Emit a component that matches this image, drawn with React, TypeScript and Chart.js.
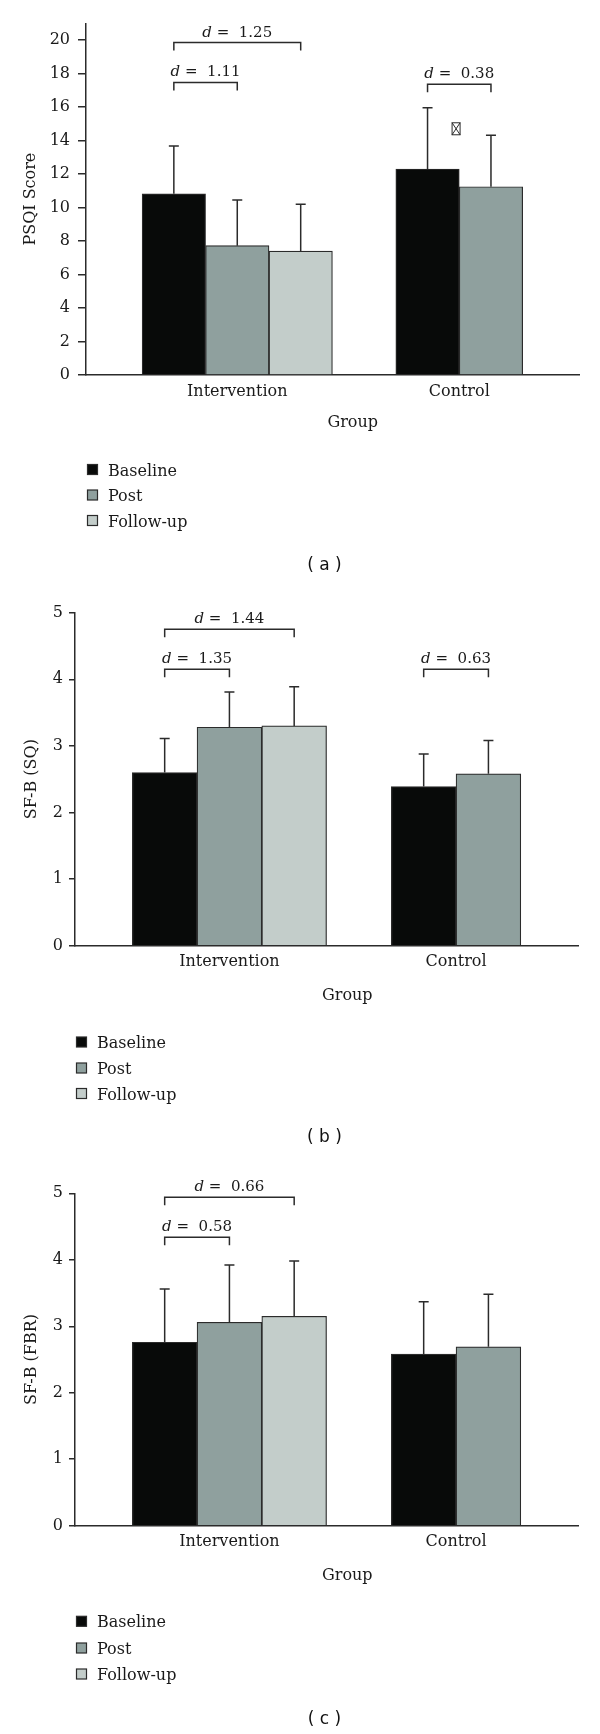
import React, { useEffect, useRef } from "react";
import { Chart, registerables } from "chart.js";

Chart.register(...registerables);

// ---------- data ----------
const groups = ["Intervention", "Control"];
const seriesNames = ["Baseline", "Post", "Follow-up"];

const psqiTicks = [0, 2, 4, 6, 8, 10, 12, 14, 16, 18, 20];
const psqiBaseline = [10.82, 12.3];
const psqiPost = [7.72, 11.24];
const psqiFollowUp = [7.4, null];
const psqiBaselineSD = [2.85, 3.66];
const psqiPostSD = [2.73, 3.07];
const psqiFollowUpSD = [2.8, null];
const psqiEffectPairs = [[0, 0, 2], [0, 0, 1], [1, 0, 1]];
const psqiEffectLabels = ["1.25", "1.11", "0.38"];

const sfTicks = [0, 1, 2, 3, 4, 5];

const sqBaseline = [2.6, 2.39];
const sqPost = [3.28, 2.58];
const sqFollowUp = [3.3, null];
const sqBaselineSD = [0.51, 0.49];
const sqPostSD = [0.53, 0.5];
const sqFollowUpSD = [0.59, null];
const sqEffectPairs = [[0, 0, 2], [0, 0, 1], [1, 0, 1]];
const sqEffectLabels = ["1.44", "1.35", "0.63"];

const fbrBaseline = [2.76, 2.58];
const fbrPost = [3.06, 2.69];
const fbrFollowUp = [3.15, null];
const fbrBaselineSD = [0.8, 0.79];
const fbrPostSD = [0.86, 0.79];
const fbrFollowUpSD = [0.83, null];
const fbrEffectPairs = [[0, 0, 2], [0, 0, 1]];
const fbrEffectLabels = ["0.66", "0.58"];

// ---------- layout / style ----------
const groupSlot = [1, 5];
const X_MIN = -0.385;
const X_MAX = 7.388;
const seriesColors = ["#080a09", "#8fa09e", "#c3cdca"];
const LINE = "#2b2b2b";
const TEXT = "#1a1a1a";
const SERIF = '"DejaVu Serif"';

type Panel = {
  top: number;
  height: number;
  yTitle: string;
  yMax: number;
  ticks: number[];
  series: (number | null)[][];
  sds: (number | null)[][];
  pairs: number[][];
  labels: string[];
  bracketY: number[];
  padTop: number;
  padRight: number;
  xHeight: number;
  yWidth: number;
  tickLen: number;
  tickPad: number;
  titlePad: number;
  groupDy: number;
  legendDy: number[];
  caption: string;
  captionDy: number;
  marker?: { x: number; y: number };
};

const panels: Panel[] = [
  {
    top: 0,
    height: 580,
    yTitle: "PSQI Score",
    yMax: 21,
    ticks: psqiTicks,
    series: [psqiBaseline, psqiPost, psqiFollowUp],
    sds: [psqiBaselineSD, psqiPostSD, psqiFollowUpSD],
    pairs: psqiEffectPairs,
    labels: psqiEffectLabels,
    bracketY: [19.85, 17.47, 17.36],
    padTop: 23.25,
    padRight: 21,
    xHeight: 205,
    yWidth: 86,
    tickLen: 8,
    tickPad: 8,
    titlePad: 21,
    groupDy: 52,
    legendDy: [94.5, 120, 145.5],
    caption: "( a )",
    captionDy: 191,
    marker: { x: 5.45, y: 14.7 },
  },
  {
    top: 580,
    height: 570,
    yTitle: "SF-B (SQ)",
    yMax: 5,
    ticks: sfTicks,
    series: [sqBaseline, sqPost, sqFollowUp],
    sds: [sqBaselineSD, sqPostSD, sqFollowUpSD],
    pairs: sqEffectPairs,
    labels: sqEffectLabels,
    bracketY: [4.75, 4.15, 4.15],
    padTop: 32.7,
    padRight: 21.7,
    xHeight: 204.3,
    yWidth: 75,
    tickLen: 6,
    tickPad: 6,
    titlePad: 22,
    groupDy: 54.5,
    legendDy: [96.3, 122.3, 147.8],
    caption: "( b )",
    captionDy: 192,
  },
  {
    top: 1150,
    height: 584,
    yTitle: "SF-B (FBR)",
    yMax: 5,
    ticks: sfTicks,
    series: [fbrBaseline, fbrPost, fbrFollowUp],
    sds: [fbrBaselineSD, fbrPostSD, fbrFollowUpSD],
    pairs: fbrEffectPairs,
    labels: fbrEffectLabels,
    bracketY: [4.94, 4.34],
    padTop: 43.3,
    padRight: 21.7,
    xHeight: 208.3,
    yWidth: 75,
    tickLen: 6,
    tickPad: 6,
    titlePad: 22,
    groupDy: 54,
    legendDy: [95.6, 122.3, 148.3],
    caption: "( c )",
    captionDy: 194,
  },
];

function groupCenters(series: (number | null)[][]) {
  return groups.map((_, g) => {
    const n = series.filter((s) => s[g] !== null && s[g] !== undefined).length;
    return groupSlot[g] + (n - 1) / 2;
  });
}

function extrasPlugin(p: Panel) {
  return {
    id: "panelExtras",
    afterDatasetsDraw(chart: any) {
      const ctx = chart.ctx;
      const xs = chart.scales.x;
      const ys = chart.scales.y;
      ctx.save();
      ctx.strokeStyle = LINE;
      ctx.lineWidth = 1.5;
      // error bars (upper whisker)
      p.series.forEach((vals, s) => {
        const meta = chart.getDatasetMeta(s);
        let k = 0;
        vals.forEach((v, g) => {
          if (v === null) return;
          const el = meta.data[k++];
          const sd = p.sds[s][g] as number;
          const top = ys.getPixelForValue(v + sd);
          ctx.beginPath();
          ctx.moveTo(el.x, el.y);
          ctx.lineTo(el.x, top);
          ctx.moveTo(el.x - 5, top);
          ctx.lineTo(el.x + 5, top);
          ctx.stroke();
        });
      });
      ctx.restore();
    },
    afterDraw(chart: any) {
      const ctx = chart.ctx;
      const xs = chart.scales.x;
      const ys = chart.scales.y;
      const area = chart.chartArea;
      ctx.save();
      // effect-size brackets
      p.pairs.forEach((pair, i) => {
        const [g, a, b] = pair;
        const x1 = xs.getPixelForValue(groupSlot[g] + a);
        const x2 = xs.getPixelForValue(groupSlot[g] + b);
        const y = ys.getPixelForValue(p.bracketY[i]);
        ctx.strokeStyle = LINE;
        ctx.lineWidth = 1.5;
        ctx.beginPath();
        ctx.moveTo(x1, y + 8);
        ctx.lineTo(x1, y);
        ctx.lineTo(x2, y);
        ctx.lineTo(x2, y + 8);
        ctx.stroke();
        const italic = `italic 15px ${SERIF}`;
        const normal = `15px ${SERIF}`;
        const t1 = "d";
        const t2 = " =  " + p.labels[i];
        ctx.font = italic;
        const w1 = ctx.measureText(t1).width;
        ctx.font = normal;
        const w2 = ctx.measureText(t2).width;
        const x0 = (x1 + x2) / 2 - (w1 + w2) / 2;
        ctx.fillStyle = TEXT;
        ctx.textAlign = "left";
        ctx.textBaseline = "alphabetic";
        ctx.font = italic;
        ctx.fillText(t1, x0, y - 6);
        ctx.font = normal;
        ctx.fillText(t2, x0 + w1, y - 6);
      });
      // stray glyph box
      if (p.marker) {
        const mx = xs.getPixelForValue(p.marker.x);
        const my = ys.getPixelForValue(p.marker.y);
        ctx.strokeStyle = LINE;
        ctx.lineWidth = 1;
        ctx.strokeRect(mx - 4, my - 6, 8, 12);
        ctx.beginPath();
        ctx.moveTo(mx - 4, my - 6);
        ctx.lineTo(mx + 4, my + 6);
        ctx.moveTo(mx + 4, my - 6);
        ctx.lineTo(mx - 4, my + 6);
        ctx.stroke();
      }
      // x-axis title
      ctx.fillStyle = TEXT;
      ctx.font = `16px ${SERIF}`;
      ctx.textAlign = "center";
      ctx.textBaseline = "alphabetic";
      ctx.fillText("Group", xs.getPixelForValue(3.82), area.bottom + p.groupDy);
      // legend
      const lx = area.left + 1.5;
      seriesNames.forEach((name, s) => {
        const cy = area.bottom + p.legendDy[s];
        ctx.fillStyle = seriesColors[s];
        ctx.fillRect(lx, cy - 5, 10, 10);
        ctx.strokeStyle = LINE;
        ctx.lineWidth = 1.2;
        ctx.strokeRect(lx, cy - 5, 10, 10);
        ctx.fillStyle = TEXT;
        ctx.font = `16px ${SERIF}`;
        ctx.textAlign = "left";
        ctx.fillText(name, lx + 20.5, cy + 6);
      });
      // caption
      ctx.fillStyle = "#111";
      ctx.font = '17px "DejaVu Sans"';
      ctx.textAlign = "center";
      ctx.textBaseline = "middle";
      ctx.fillText(p.caption, 324.5, area.bottom + p.captionDy);
      ctx.restore();
    },
  };
}

function PanelChart({ p }: { p: Panel }) {
  const ref = useRef<HTMLCanvasElement>(null);
  useEffect(() => {
    const centers = groupCenters(p.series);
    const datasets = seriesNames.map((name, s) => ({
      label: name,
      data: groups
        .map((_, g) => ({ x: groupSlot[g] + s, y: p.series[s][g] }))
        .filter((d) => d.y !== null),
      backgroundColor: seriesColors[s],
      borderColor: LINE,
      borderWidth: 1.2,
      grouped: false,
      barPercentage: 1,
      categoryPercentage: 1,
    }));
    const chart = new Chart(ref.current as HTMLCanvasElement, {
      type: "bar",
      data: { datasets } as any,
      options: {
        responsive: false,
        maintainAspectRatio: false,
        animation: false,
        events: [],
        layout: { padding: { top: p.padTop, right: p.padRight, left: 0, bottom: 0 } },
        plugins: { legend: { display: false }, tooltip: { enabled: false } },
        scales: {
          x: {
            type: "linear",
            min: X_MIN,
            max: X_MAX,
            offset: false,
            grid: { display: false, drawTicks: false },
            border: { display: true, color: LINE, width: 1.5 },
            afterBuildTicks: (scale: any) => {
              scale.ticks = centers.map((v) => ({ value: v }));
            },
            afterFit: (scale: any) => {
              scale.height = p.xHeight;
            },
            ticks: {
              padding: 7,
              maxRotation: 0,
              autoSkip: false,
              color: TEXT,
              font: { family: "DejaVu Serif", size: 16 },
              callback: (_v: any, i: number) => groups[i],
            },
          },
          y: {
            type: "linear",
            min: 0,
            max: p.yMax,
            grid: {
              display: true,
              drawOnChartArea: false,
              drawTicks: true,
              tickLength: p.tickLen,
              color: LINE,
              lineWidth: 1.5,
            },
            border: { display: true, color: LINE, width: 1.5 },
            afterBuildTicks: (scale: any) => {
              scale.ticks = p.ticks.map((v) => ({ value: v }));
            },
            afterFit: (scale: any) => {
              scale.width = p.yWidth;
            },
            ticks: {
              padding: p.tickPad,
              color: TEXT,
              font: { family: "DejaVu Serif", size: 16 },
            },
            title: {
              display: true,
              text: p.yTitle,
              color: TEXT,
              font: { family: "DejaVu Serif", size: 16 },
              padding: { top: p.titlePad, bottom: 0 },
            },
          },
        },
      } as any,
      plugins: [extrasPlugin(p)],
    });
    return () => chart.destroy();
  }, []);
  return (
    <canvas
      ref={ref}
      width={600}
      height={p.height}
      style={{ position: "absolute", left: 0, top: p.top, width: 600, height: p.height, display: "block" }}
    />
  );
}

export default function App() {
  return (
    <div style={{ position: "absolute", left: 0, top: 0, width: 600, height: 1734, background: "#fff", overflow: "hidden" }}>
      {panels.map((p, i) => (
        <PanelChart key={i} p={p} />
      ))}
    </div>
  );
}
